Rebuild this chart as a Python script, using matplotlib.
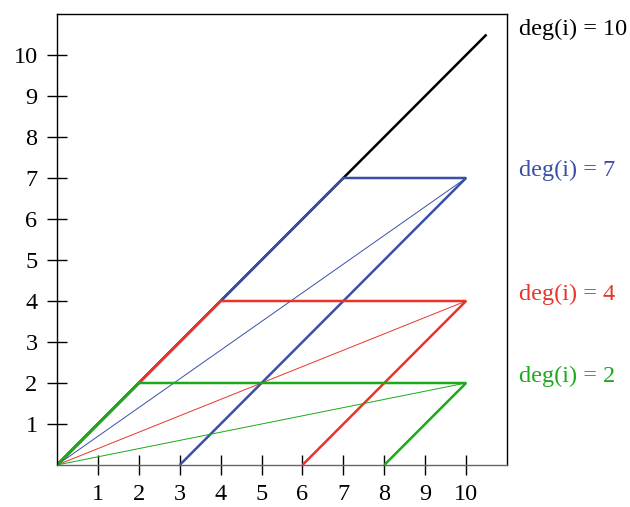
import matplotlib
matplotlib.use("Agg")
import matplotlib.pyplot as plt

plt.rcParams['font.family'] = ['Liberation Serif', 'DejaVu Serif']

# data
degrees = [10, 7, 4, 2]
colors = ['#000000', '#3a4fa8', '#e8352a', '#1aaa1a']
labels = ['deg(i) = 10', 'deg(i) = 7', 'deg(i) = 4', 'deg(i) = 2']
label_y = [10.62, 7.18, 4.15, 2.17]
n_max = 10
diag_end = 10.5
ticks = list(range(1, 11))

fig = plt.figure(figsize=(6.3, 5.07), dpi=100)
ax = fig.add_axes([57/630, 42/507, 450/630, 451/507])

for d, c, lab, ly in zip(degrees, colors, labels, label_y):
    if d == n_max:
        ax.plot([0, diag_end], [0, diag_end], color=c, lw=1.8, solid_capstyle='butt')
    else:
        ax.plot([0, n_max], [0, d], color=c, lw=0.7)
        ax.plot([0, d, n_max, n_max - d], [0, d, d, 0], color=c, lw=1.8,
                solid_joinstyle='miter', solid_capstyle='butt')
    ax.text(11.3, ly, lab, color=c, fontsize=17.5, va='center', ha='left', clip_on=False)

ax.set_xlim(0, 11)
ax.set_ylim(0, 11)
ax.set_xticks(ticks)
ax.set_yticks(ticks)
ax.tick_params(direction='inout', length=14, width=1, labelsize=17.5)
ax.tick_params(axis='x', pad=7)
ax.tick_params(axis='y', pad=7)
for s in ax.spines.values():
    s.set_linewidth(1)
ax.spines['bottom'].set_color('#666666')

fig.savefig('out.png', dpi=100)
